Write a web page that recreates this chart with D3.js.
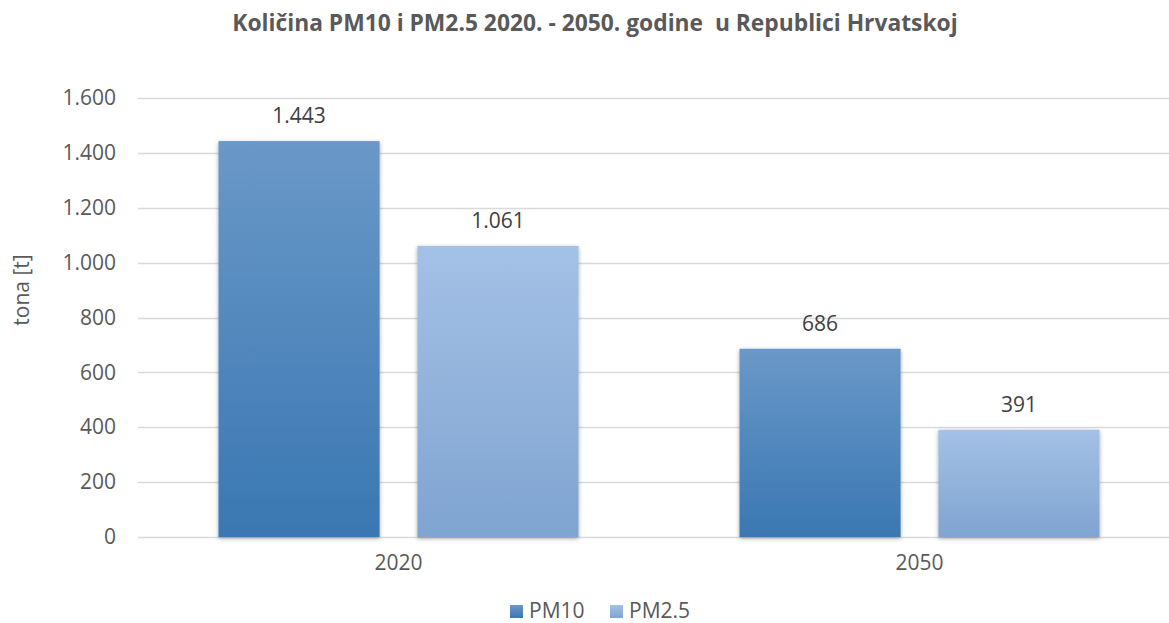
<!DOCTYPE html>
<html>
<head>
<meta charset="utf-8">
<script src="https://cdn.jsdelivr.net/npm/d3@7"></script>
<style>
  body { margin: 0; background: #fff; }
  svg text { font-family: "Open Sans", sans-serif; white-space: pre; }
</style>
</head>
<body>
<svg class="chart" width="1169" height="623"></svg>
<script>
var categories = ["2020", "2050"];
var seriesNames = ["PM10", "PM2.5"];
var pm10Values = [1443, 686];
var pm25Values = [1061, 391];
var yTicks = [0, 200, 400, 600, 800, 1000, 1200, 1400, 1600];
var titleText = "Količina PM10 i PM2.5 2020. - 2050. godine  u Republici Hrvatskoj";
var yTitle = "tona [t]";

(function() {
  var margin = {top: 98, right: -11, bottom: 86, left: 138};

  var svg = d3.select(".chart"),
      svgWidth  = +svg.attr("width"),
      svgHeight = +svg.attr("height"),
      width = svgWidth - margin.left - margin.right,
      height = svgHeight - margin.top - margin.bottom;

  var fmt = function(v) { return d3.format(",")(v).replace(/,/g, "."); };

  var defs = svg.append("defs");
  var grads = [
    {id: "gPM10", top: "#6a98c8", bottom: "#3a77b2"},
    {id: "gPM25", top: "#a4c1e6", bottom: "#7fa4d0"}
  ];
  grads.forEach(function(g) {
    var lg = defs.append("linearGradient")
      .attr("id", g.id)
      .attr("x1", 0).attr("y1", 0).attr("x2", 0).attr("y2", 1);
    lg.append("stop").attr("offset", "0%").attr("stop-color", g.top);
    lg.append("stop").attr("offset", "100%").attr("stop-color", g.bottom);
  });

  var shadow = defs.append("filter").attr("id", "shadow")
    .attr("x", "-10%").attr("y", "-10%").attr("width", "120%").attr("height", "120%");
  shadow.append("feDropShadow")
    .attr("dx", 0).attr("dy", 1.5).attr("stdDeviation", 2)
    .attr("flood-color", "#000").attr("flood-opacity", 0.35);

  var data = categories.map(function(c, i) {
    return {cat: c, values: [
      {name: seriesNames[0], value: pm10Values[i], grad: "gPM10"},
      {name: seriesNames[1], value: pm25Values[i], grad: "gPM25"}
    ]};
  });

  var chart = svg.append("g")
    .attr("transform", "translate(" + margin.left + "," + margin.top + ")");

  var yScale = d3.scaleLinear()
    .domain([0, 1600])
    .range([height, 0]);

  var x0 = d3.scaleBand()
    .domain(categories)
    .range([0, width]);

  var outer = x0.bandwidth() * 0.1545;
  var x1 = d3.scaleBand()
    .domain(seriesNames)
    .range([outer, x0.bandwidth() - outer])
    .paddingInner(0.19);

  // gridlines
  chart.selectAll("line.grid")
    .data(yTicks)
    .enter().append("line")
    .attr("class", "grid")
    .attr("x1", 0)
    .attr("x2", width)
    .attr("y1", function(d) { return Math.round(yScale(d)) + 0.5; })
    .attr("y2", function(d) { return Math.round(yScale(d)) + 0.5; })
    .attr("stroke", "#d9d9d9")
    .attr("stroke-width", 1.5);

  // y axis labels
  var yAxis = d3.axisLeft(yScale)
    .tickValues(yTicks)
    .tickSize(0)
    .tickPadding(22)
    .tickFormat(fmt);

  var yg = chart.append("g").call(yAxis);
  yg.select(".domain").remove();
  yg.selectAll("text")
    .attr("fill", "#595959")
    .style("font-size", "21px");

  // bars
  var group = chart.selectAll("g.cat")
    .data(data)
    .enter().append("g")
    .attr("class", "cat")
    .attr("transform", function(d) { return "translate(" + x0(d.cat) + ",0)"; });

  group.selectAll("rect")
    .data(function(d) { return d.values; })
    .enter().append("rect")
    .attr("x", function(d) { return x1(d.name); })
    .attr("y", function(d) { return yScale(d.value); })
    .attr("width", x1.bandwidth())
    .attr("height", function(d) { return height - yScale(d.value); })
    .attr("fill", function(d) { return "url(#" + d.grad + ")"; })
    .attr("filter", "url(#shadow)");

  group.selectAll("text.val")
    .data(function(d) { return d.values; })
    .enter().append("text")
    .attr("class", "val")
    .attr("x", function(d) { return x1(d.name) + x1.bandwidth() / 2; })
    .attr("y", function(d) { return yScale(d.value) - 18; })
    .attr("text-anchor", "middle")
    .attr("fill", "#404040")
    .style("font-size", "21px")
    .text(function(d) { return fmt(d.value); });

  // x axis labels
  var xAxis = d3.axisBottom(x0).tickSize(0).tickPadding(18);
  var xg = chart.append("g")
    .attr("transform", "translate(0," + height + ")")
    .call(xAxis);
  xg.select(".domain").remove();
  xg.selectAll("text")
    .attr("fill", "#595959")
    .style("font-size", "21px");

  // title
  svg.append("text")
    .attr("x", 595)
    .attr("y", 31)
    .attr("text-anchor", "middle")
    .attr("fill", "#595959")
    .style("font-size", "22.8px")
    .style("font-weight", "bold")
    .text(titleText);

  // y title
  svg.append("text")
    .attr("transform", "translate(29,290) rotate(-90)")
    .attr("text-anchor", "middle")
    .attr("fill", "#595959")
    .style("font-size", "21px")
    .text(yTitle);

  // legend
  var legendX = [510, 610];
  var legend = svg.selectAll("g.legend")
    .data(seriesNames)
    .enter().append("g")
    .attr("class", "legend")
    .attr("transform", function(d, i) { return "translate(" + legendX[i] + ",605)"; });

  legend.append("rect")
    .attr("width", 13)
    .attr("height", 13)
    .attr("fill", function(d, i) { return "url(#" + grads[i].id + ")"; });

  legend.append("text")
    .attr("x", 19)
    .attr("y", 13)
    .attr("fill", "#595959")
    .style("font-size", "21px")
    .text(function(d) { return d; });
})();
</script>
</body>
</html>
